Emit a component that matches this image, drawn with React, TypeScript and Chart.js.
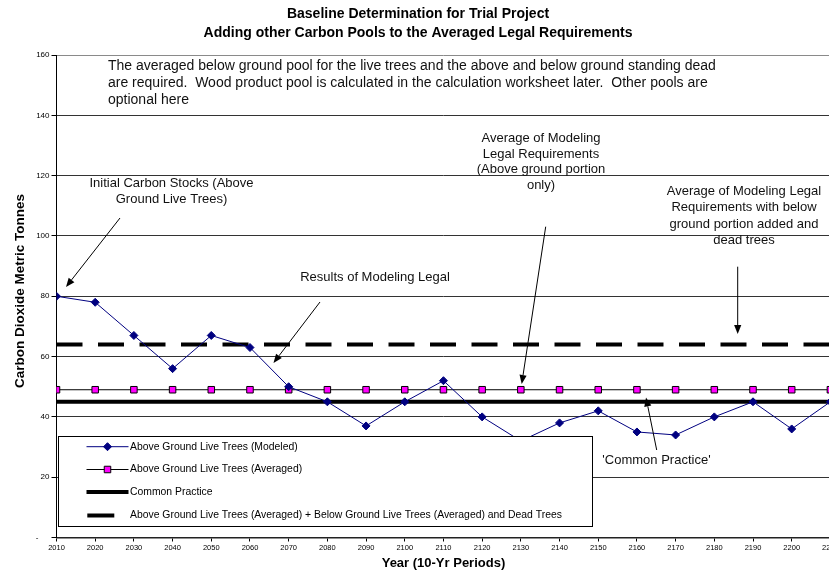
import React, { useEffect, useRef } from 'react';
import { Chart, registerables } from 'chart.js';

Chart.register(...registerables);

const FONT = 'Arial, "Liberation Sans", sans-serif';

const titleLines = ['Baseline Determination for Trial Project', 'Adding other Carbon Pools to the Averaged Legal Requirements'];
const xTitle = 'Year (10-Yr Periods)';
const yTitle = 'Carbon Dioxide Metric Tonnes';

const years = [2010, 2020, 2030, 2040, 2050, 2060, 2070, 2080, 2090, 2100, 2110, 2120, 2130, 2140, 2150, 2160, 2170, 2180, 2190, 2200, 2210];
const modeled = [80, 78, 67, 56, 67, 63, 50, 45, 37, 45, 52, 40, 32, 38, 42, 35, 34, 40, 45, 36, 45];
const averaged = [49, 49, 49, 49, 49, 49, 49, 49, 49, 49, 49, 49, 49, 49, 49, 49, 49, 49, 49, 49, 49];
const commonPractice = [45, 45, 45, 45, 45, 45, 45, 45, 45, 45, 45, 45, 45, 45, 45, 45, 45, 45, 45, 45, 45];
const withBelowAndDead = [64, 64, 64, 64, 64, 64, 64, 64, 64, 64, 64, 64, 64, 64, 64, 64, 64, 64, 64, 64, 64];

const seriesLabels = [
  'Above Ground Live Trees (Modeled)',
  'Above Ground Live Trees (Averaged)',
  'Common Practice',
  'Above Ground Live Trees (Averaged) + Below Ground Live Trees (Averaged) and Dead Trees',
];

const yTicksMin = 0;
const yTicksMax = 160;
const yStep = 20;
const xStep = 10;

const noteText = [
  'The averaged below ground pool for the live trees and the above and below ground standing dead',
  'are required.  Wood product pool is calculated in the calculation worksheet later.  Other pools are',
  'optional here',
];

function arrow(ctx: CanvasRenderingContext2D, x1: number, y1: number, x2: number, y2: number) {
  ctx.save();
  ctx.strokeStyle = '#000';
  ctx.fillStyle = '#000';
  ctx.lineWidth = 1;
  const ang = Math.atan2(y2 - y1, x2 - x1);
  const len = 9;
  const hw = 3.6;
  const bx = x2 - Math.cos(ang) * len;
  const by = y2 - Math.sin(ang) * len;
  ctx.beginPath();
  ctx.moveTo(x1, y1);
  ctx.lineTo(bx, by);
  ctx.stroke();
  ctx.beginPath();
  ctx.moveTo(x2, y2);
  ctx.lineTo(bx + Math.sin(ang) * hw, by - Math.cos(ang) * hw);
  ctx.lineTo(bx - Math.sin(ang) * hw, by + Math.cos(ang) * hw);
  ctx.closePath();
  ctx.fill();
  ctx.restore();
}

function centeredLines(ctx: CanvasRenderingContext2D, lines: string[], cx: number, y0: number, lh: number) {
  ctx.textAlign = 'center';
  ctx.textBaseline = 'middle';
  lines.forEach((l, i) => ctx.fillText(l, cx, y0 + i * lh));
}

const decorPlugin = {
  id: 'decor',
  afterDraw(chart: any) {
    const ctx: CanvasRenderingContext2D = chart.ctx;
    const area = chart.chartArea;
    ctx.save();
    ctx.fillStyle = '#000';

    // title
    ctx.font = `bold 14px ${FONT}`;
    ctx.textAlign = 'center';
    ctx.textBaseline = 'middle';
    ctx.fillText(titleLines[0], chart.width / 2, 14);
    ctx.fillText(titleLines[1], chart.width / 2, 33);

    // axis titles
    ctx.font = `bold 13px ${FONT}`;
    ctx.fillText(xTitle, (area.left + area.right) / 2, 563.5);
    ctx.save();
    ctx.font = `bold 13.5px ${FONT}`;
    ctx.translate(20, 291);
    ctx.rotate(-Math.PI / 2);
    ctx.fillText(yTitle, 0, 0);
    ctx.restore();

    // annotations
    ctx.font = `14px ${FONT}`;
    ctx.fillStyle = '#111';
    ctx.textAlign = 'left';
    noteText.forEach((l, i) => ctx.fillText(l, 108, 66 + i * 17.3));

    ctx.font = `13px ${FONT}`;
    centeredLines(ctx, ['Initial Carbon Stocks (Above', 'Ground Live Trees)'], 171.5, 183.5, 16);
    centeredLines(ctx, ['Results of Modeling Legal'], 375, 277, 16);
    centeredLines(ctx, ['Average of Modeling', 'Legal Requirements', '(Above ground portion', 'only)'], 541, 138.5, 15.6);
    centeredLines(ctx, ['Average of Modeling Legal', 'Requirements with below', 'ground portion added and', 'dead trees'], 744, 191.8, 16.1);
    centeredLines(ctx, ["'Common Practice'"], 656.5, 460, 16);

    arrow(ctx, 120, 218, 66, 287);
    arrow(ctx, 320, 302, 273.5, 363);
    arrow(ctx, 545.7, 226.7, 521.7, 384);
    arrow(ctx, 737.7, 266.7, 737.7, 334);
    arrow(ctx, 656.7, 450, 646, 397.5);

    // legend
    const lx = 58.5, ly = 436.5, lw = 534, lh = 90;
    ctx.fillStyle = '#fff';
    ctx.fillRect(lx, ly, lw, lh);
    ctx.strokeStyle = '#000';
    ctx.lineWidth = 1;
    ctx.strokeRect(lx, ly, lw, lh);

    const rows = [446.7, 469.5, 492, 515.5];
    ctx.font = `10.4px ${FONT}`;
    chart.data.datasets.forEach((ds: any, i: number) => {
      const y = rows[i];
      ctx.save();
      ctx.strokeStyle = ds.borderColor;
      ctx.lineWidth = ds.borderWidth;
      ctx.beginPath();
      if (ds.borderDash && ds.borderDash.length) {
        ctx.moveTo(87.3, y);
        ctx.lineTo(114.3, y);
      } else {
        ctx.moveTo(86.5, y);
        ctx.lineTo(128.5, y);
      }
      ctx.stroke();
      if (ds.pointRadius > 0) {
        const mx = 107.5;
        ctx.fillStyle = ds.pointBackgroundColor;
        ctx.strokeStyle = ds.pointBorderColor;
        ctx.lineWidth = ds.pointBorderWidth || 1;
        ctx.beginPath();
        if (ds.pointStyle === 'rectRot') {
          const r = ds.pointRadius;
          ctx.moveTo(mx, y - r);
          ctx.lineTo(mx + r, y);
          ctx.lineTo(mx, y + r);
          ctx.lineTo(mx - r, y);
          ctx.closePath();
        } else {
          const s = ds.pointRadius * Math.SQRT1_2;
          ctx.rect(mx - s, y - s, 2 * s, 2 * s);
        }
        ctx.fill();
        ctx.stroke();
      }
      ctx.restore();
      ctx.fillStyle = '#000';
      ctx.textAlign = 'left';
      ctx.textBaseline = 'middle';
      ctx.fillText(ds.label, 130, y);
    });

    ctx.restore();
  },
};

export default function App() {
  const ref = useRef<HTMLCanvasElement>(null);

  useEffect(() => {
    const canvas = ref.current;
    if (!canvas) return;
    const pts = (vals: number[]) => years.map((x, i) => ({ x, y: vals[i] }));
    const chart = new Chart(canvas, {
      type: 'line',
      data: {
        datasets: [
          {
            label: seriesLabels[0],
            data: pts(modeled),
            borderColor: '#000080',
            borderWidth: 1,
            pointStyle: 'rectRot',
            pointRadius: 4,
            pointBackgroundColor: '#000080',
            pointBorderColor: '#000080',
            pointBorderWidth: 1,
            tension: 0,
          },
          {
            label: seriesLabels[1],
            data: pts(averaged),
            borderColor: '#000',
            borderWidth: 1,
            pointStyle: 'rect',
            pointRadius: 4.6,
            pointBackgroundColor: '#FF00FF',
            pointBorderColor: '#000',
            pointBorderWidth: 1,
          },
          {
            label: seriesLabels[2],
            data: pts(commonPractice),
            borderColor: '#000',
            borderWidth: 4,
            pointRadius: 0,
          },
          {
            label: seriesLabels[3],
            data: pts(withBelowAndDead),
            borderColor: '#000',
            borderWidth: 4,
            borderDash: [26, 15.5],
            pointRadius: 0,
          },
        ] as any,
      },
      options: {
        responsive: false,
        animation: false,
        devicePixelRatio: 1,
        layout: { padding: { top: 55, right: 1, left: 0, bottom: 0 } },
        plugins: {
          legend: { display: false },
          title: { display: false },
          tooltip: { enabled: false },
        },
        scales: {
          x: {
            type: 'linear',
            min: years[0],
            max: years[years.length - 1],
            afterFit(s: any) {
              s.height = 32.5;
              s.paddingLeft = 0;
              s.paddingRight = 0;
            },
            ticks: {
              stepSize: xStep,
              autoSkip: false,
              maxRotation: 0,
              padding: 2,
              color: '#000',
              font: { family: FONT, size: 7.5 },
              callback: (v: any) => String(v),
            },
            grid: { drawOnChartArea: false, drawTicks: true, tickLength: 4, color: '#000' },
            border: { color: '#222', width: 1.5 },
          },
          y: {
            min: yTicksMin,
            max: yTicksMax,
            afterFit(s: any) {
              s.width = 56.5;
              s.paddingTop = 0;
              s.paddingBottom = 0;
            },
            ticks: {
              stepSize: yStep,
              padding: 2,
              color: '#000',
              font: { family: FONT, size: 8 },
              callback: (v: any) => (v === 0 ? '-     ' : String(v)),
            },
            grid: {
              color: (c: any) => (c.tick && c.tick.value === yTicksMax ? '#8a8a8a' : '#333'),
              lineWidth: 1,
              tickLength: 5,
              tickColor: '#000',
            },
            border: { color: '#000', width: 1 },
          },
        },
      },
      plugins: [decorPlugin],
    });
    return () => chart.destroy();
  }, []);

  return (
    <div style={{ position: 'fixed', left: 0, top: 0, width: 829, height: 570, overflow: 'hidden', background: '#fff' }}>
      <canvas ref={ref} width={836} height={570} style={{ display: 'block' }} />
    </div>
  );
}
